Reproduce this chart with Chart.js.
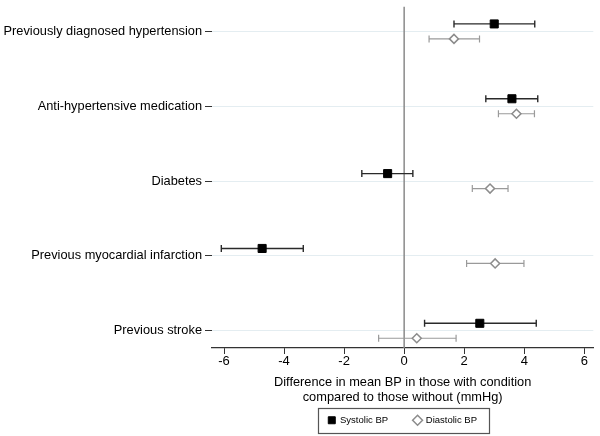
<!DOCTYPE html>
<html>
<head>
<meta charset="utf-8">
<script src="https://cdn.jsdelivr.net/npm/chart.js@4/dist/chart.umd.min.js"></script>
<style>
  html, body { margin: 0; padding: 0; background: #fff; }
  #wrap { width: 600px; height: 436px; }
</style>
</head>
<body>
<div id="wrap"><canvas id="chart"></canvas></div>
<script>
// Conditions, top to bottom
const categories = [
  'Previously diagnosed hypertension',
  'Anti-hypertensive medication',
  'Diabetes',
  'Previous myocardial infarction',
  'Previous stroke'
];

// Systolic BP: mean difference and 95% CI
const systolicMean = [3.0, 3.59, -0.55, -4.73, 2.52];
const systolicLow = [1.66, 2.72, -1.41, -6.09, 0.68];
const systolicHigh = [4.35, 4.45, 0.29, -3.36, 4.40];

// Diastolic BP: mean difference and 95% CI
const diastolicMean = [1.66, 3.74, 2.86, 3.03, 0.42];
const diastolicLow = [0.83, 3.14, 2.27, 2.08, -0.85];
const diastolicHigh = [2.51, 4.34, 3.46, 3.99, 1.73];

const xTicks = [-6, -4, -2, 0, 2, 4, 6];

const FONT = 'Liberation Sans, Arial, sans-serif';
const SYS_COLOR = '#000000';
const DIA_COLOR = '#8c8c8c';
const ROW_SHIFT = 0.1;
const LEGEND_PAD = 26;
const LEGEND_BAND = 31;

const toPoints = (means, shift) =>
  means.map((m, i) => ({ x: m, y: i + 1 + shift }));

// Horizontal confidence interval bars with end caps
const errorBars = {
  id: 'errorBars',
  beforeDatasetsDraw(chart) {
    const { ctx, scales: { x, y } } = chart;
    const sets = [
      { lo: systolicLow, hi: systolicHigh, shift: -ROW_SHIFT, color: '#2a2a2a', width: 1.4 },
      { lo: diastolicLow, hi: diastolicHigh, shift: ROW_SHIFT, color: '#9a9a9a', width: 1.2 }
    ];
    ctx.save();
    sets.forEach((s) => {
      ctx.strokeStyle = s.color;
      ctx.lineWidth = s.width;
      s.lo.forEach((lo, i) => {
        const py = y.getPixelForValue(i + 1 + s.shift);
        const x1 = x.getPixelForValue(lo);
        const x2 = x.getPixelForValue(s.hi[i]);
        ctx.beginPath();
        ctx.moveTo(x1, py);
        ctx.lineTo(x2, py);
        ctx.moveTo(x1, py - 3.5);
        ctx.lineTo(x1, py + 3.5);
        ctx.moveTo(x2, py - 3.5);
        ctx.lineTo(x2, py + 3.5);
        ctx.stroke();
      });
    });
    ctx.restore();
  }
};

// Reference line at zero
const zeroLine = {
  id: 'zeroLine',
  beforeDatasetsDraw(chart) {
    const { ctx, chartArea, scales: { x } } = chart;
    const px = x.getPixelForValue(0);
    ctx.save();
    ctx.strokeStyle = '#8a8a8a';
    ctx.lineWidth = 1.5;
    ctx.beginPath();
    ctx.moveTo(px, chartArea.top);
    ctx.lineTo(px, chartArea.bottom);
    ctx.stroke();
    ctx.restore();
  }
};

// Legend: keep it a fixed band, centred under the plot, with a frame
const legendBox = {
  id: 'legendBox',
  afterInit(chart) {
    const legend = chart.legend;
    if (!legend) return;
    const fit = legend.fit.bind(legend);
    legend.fit = function () {
      fit();
      this.height = LEGEND_BAND;
    };
  },
  afterLayout(chart) {
    const legend = chart.legend;
    if (!legend) return;
    const { left, right } = chart.chartArea;
    legend.left = left;
    legend.right = right;
    legend.width = right - left;
    legend.top = legend.top + LEGEND_BAND / 2 - LEGEND_PAD - 5;
  },
  afterDraw(chart) {
    const boxes = chart.legend && chart.legend.legendHitBoxes;
    if (!boxes || !boxes.length) return;
    const left = Math.min(...boxes.map((b) => b.left)) - 10;
    const right = Math.max(...boxes.map((b) => b.left + b.width)) + 12;
    const top = Math.min(...boxes.map((b) => b.top)) - 8;
    const bottom = Math.max(...boxes.map((b) => b.top + b.height)) + 7;
    const { ctx } = chart;
    ctx.save();
    ctx.strokeStyle = '#555';
    ctx.lineWidth = 1.2;
    ctx.strokeRect(Math.round(left) + 0.5, Math.round(top) + 0.5, Math.round(right - left), Math.round(bottom - top));
    ctx.restore();
  }
};

new Chart(document.getElementById('chart'), {
  type: 'scatter',
  data: {
    datasets: [
      {
        label: 'Systolic BP',
        data: toPoints(systolicMean, -ROW_SHIFT),
        pointStyle: 'rect',
        radius: 5.7,
        hoverRadius: 5.7,
        backgroundColor: SYS_COLOR,
        borderColor: SYS_COLOR,
        borderWidth: 1
      },
      {
        label: 'Diastolic BP',
        data: toPoints(diastolicMean, ROW_SHIFT),
        pointStyle: 'rectRot',
        radius: 4.5,
        hoverRadius: 4.5,
        backgroundColor: '#ffffff',
        borderColor: DIA_COLOR,
        borderWidth: 1.5
      }
    ]
  },
  options: {
    responsive: true,
    maintainAspectRatio: false,
    animation: false,
    layout: { padding: { top: -3, right: 4, left: 0, bottom: 0 } },
    plugins: {
      tooltip: { enabled: false },
      legend: {
        position: 'bottom',
        labels: {
          usePointStyle: true,
          boxWidth: 7,
          boxHeight: 7,
          padding: LEGEND_PAD,
          color: '#000',
          font: { family: FONT, size: 9.5 }
        }
      }
    },
    scales: {
      x: {
        type: 'linear',
        min: -6.4,
        max: 6.3,
        afterBuildTicks: (axis) => {
          axis.ticks = xTicks.map((v) => ({ value: v }));
        },
        afterFit: (axis) => {
          axis.height = 57;
        },
        border: { display: true, color: '#333', width: 1.2 },
        grid: { drawOnChartArea: false, tickLength: 6, tickColor: '#333' },
        ticks: { color: '#000', padding: 0, font: { family: FONT, size: 13 } },
        title: {
          display: true,
          text: ['Difference in mean BP in those with condition', 'compared to those without (mmHg)'],
          color: '#000',
          padding: { top: 0, bottom: 0 },
          font: { family: FONT, size: 12.8, lineHeight: 1.15 }
        }
      },
      y: {
        type: 'linear',
        reverse: true,
        min: 0.67,
        max: 5.23,
        afterBuildTicks: (axis) => {
          axis.ticks = categories.map((c, i) => ({ value: i + 1 }));
        },
        afterFit: (axis) => {
          axis.width = 212;
        },
        border: { display: false },
        grid: { color: '#e4edf1', tickColor: '#333', tickLength: 7, lineWidth: 1 },
        ticks: {
          color: '#000',
          padding: 3,
          font: { family: FONT, size: 12.8, lineHeight: 0.1 },
          callback: (value) => categories[value - 1]
        }
      }
    }
  },
  plugins: [zeroLine, errorBars, legendBox]
});
</script>
</body>
</html>
